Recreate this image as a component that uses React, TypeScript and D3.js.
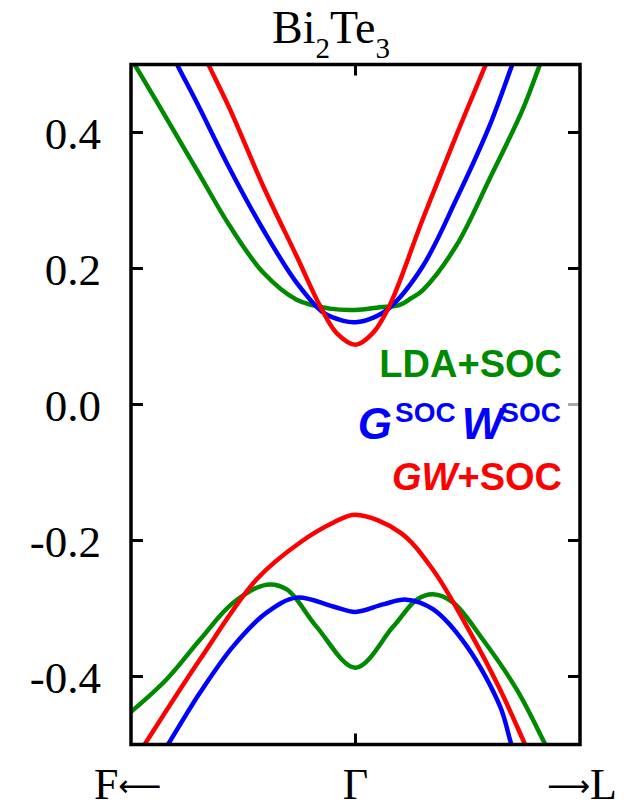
import React from "react";
import * as d3 from "d3";

// Band energies (eV) vs k (F <- Γ -> L), k in [-1, 1]
const ldaConduction: [number, number][] = [
  [-1.0, 0.509], [-0.975, 0.495], [-0.856, 0.429], [-0.707, 0.345], [-0.559, 0.262],
  [-0.411, 0.194], [-0.262, 0.154], [-0.114, 0.141], [0, 0.139], [0.109, 0.143], [0.195, 0.146],
  [0.247, 0.156], [0.299, 0.168], [0.448, 0.233], [0.596, 0.331], [0.745, 0.434], [0.816, 0.495], [0.845, 0.52],
];
const gsocConduction: [number, number][] = [
  [-0.825, 0.52], [-0.787, 0.495], [-0.707, 0.444], [-0.559, 0.346], [-0.411, 0.257],
  [-0.262, 0.179], [-0.143, 0.135], [-0.054, 0.123], [0, 0.121], [0.077, 0.1275], [0.151, 0.142],
  [0.299, 0.203], [0.448, 0.301], [0.596, 0.409], [0.693, 0.495], [0.721, 0.52],
];
const gwConduction: [number, number][] = [
  [-0.684, 0.52], [-0.648, 0.495], [-0.559, 0.434], [-0.411, 0.321], [-0.262, 0.218],
  [-0.158, 0.145], [-0.084, 0.105], [0, 0.088], [0.077, 0.105], [0.151, 0.145],
  [0.299, 0.272], [0.448, 0.395], [0.574, 0.495], [0.605, 0.52],
];
const ldaValence: [number, number][] = [
  [-1.0, -0.452], [-0.841, -0.404], [-0.693, -0.346], [-0.546, -0.292],
  [-0.396, -0.265], [-0.306, -0.272], [-0.173, -0.327], [0, -0.387], [0.167, -0.327],
  [0.273, -0.287], [0.345, -0.279], [0.434, -0.291], [0.568, -0.346], [0.718, -0.419],
  [0.835, -0.493], [0.875, -0.52],
];
const gsocValence: [number, number][] = [
  [-0.873, -0.52], [-0.826, -0.495], [-0.693, -0.424], [-0.546, -0.356], [-0.396, -0.306],
  [-0.262, -0.284], [-0.1, -0.297], [0, -0.305], [0.122, -0.294], [0.228, -0.287],
  [0.345, -0.301], [0.497, -0.356], [0.644, -0.444], [0.688, -0.493], [0.711, -0.52],
];
const gwValence: [number, number][] = [
  [-0.979, -0.52], [-0.93, -0.495], [-0.693, -0.375], [-0.44, -0.257], [-0.247, -0.203],
  [-0.1, -0.174], [0, -0.162], [0.198, -0.188], [0.345, -0.243], [0.497, -0.327],
  [0.644, -0.419], [0.746, -0.493], [0.783, -0.52],
];

const yTicks = [0.4, 0.2, 0.0, -0.2, -0.4];
const yTickLabels = ["0.4", "0.2", "0.0", "-0.2", "-0.4"];
const xTickLabels = ["F", "\u0393", "L"];

const GREEN = "#008a00";
const BLUE = "#0000ff";
const RED = "#ff0000";

const W = 630;
const H = 810;
const left = 131;
const right = 580;
const top = 64.5;
const bottom = 744.5;

const SERIF = "'Liberation Serif', 'DejaVu Serif', 'Times New Roman', serif";
const ARROW = "'DejaVu Sans', sans-serif";
const SANS = "'Liberation Sans', Arial, Helvetica, sans-serif";

export default function App() {
  const x = d3.scaleLinear().domain([-1, 1]).range([left, right]);
  const y = d3.scaleLinear().domain([-0.5, 0.5]).range([bottom, top]);
  const line = d3
    .line<[number, number]>()
    .x((d) => x(d[0]))
    .y((d) => y(d[1]))
    .curve(d3.curveCatmullRom.alpha(0.5));

  const series = [
    { d: ldaConduction, c: GREEN },
    { d: gsocConduction, c: BLUE },
    { d: gwConduction, c: RED },
    { d: ldaValence, c: GREEN },
    { d: gsocValence, c: BLUE },
    { d: gwValence, c: RED },
  ];

  const tickLen = 12;
  const xLabelY = 799;

  return (
    <svg
      width={W}
      height={H}
      style={{ position: "absolute", left: 0, top: 0, background: "#fff" }}
    >
      <defs>
        <clipPath id="plotClip">
          <rect x={left} y={top} width={right - left} height={bottom - top} />
        </clipPath>
      </defs>

      {/* Title */}
      <text x={331} y={43} textAnchor="middle" fontFamily={SERIF} fontSize={46} fill="#000">
        Bi
        <tspan fontSize={29} dy={15}>2</tspan>
        <tspan dy={-15}>Te</tspan>
        <tspan fontSize={29} dy={15}>3</tspan>
      </text>

      {/* Curves */}
      <g clipPath="url(#plotClip)">
        {series.map((s, i) => (
          <path key={i} d={line(s.d) || ""} fill="none" stroke={s.c} strokeWidth={4.5} />
        ))}
      </g>

      {/* Ticks */}
      {yTicks.map((t, i) => (
        <g key={i}>
          <line x1={left} x2={left + tickLen} y1={y(t)} y2={y(t)} stroke="#000" strokeWidth={3} />
          <line
            x1={right - tickLen}
            x2={right}
            y1={y(t)}
            y2={y(t)}
            stroke={t === 0 ? "#aaa" : "#000"}
            strokeWidth={3}
          />
          <text
            x={101}
            y={y(t) + 16.5}
            textAnchor="end"
            fontFamily={SERIF}
            fontSize={45}
            fill="#000"
          >
            {yTickLabels[i]}
          </text>
        </g>
      ))}
      <line x1={x(0)} x2={x(0)} y1={top} y2={top + 11} stroke="#000" strokeWidth={3} />
      <line x1={x(0)} x2={x(0)} y1={bottom} y2={bottom - 11} stroke="#000" strokeWidth={3} />

      {/* Frame */}
      <rect
        x={left}
        y={top}
        width={right - left}
        height={bottom - top}
        fill="none"
        stroke="#000"
        strokeWidth={3.5}
      />

      {/* X labels */}
      <text x={94} y={xLabelY} fontFamily={SERIF} fontSize={44} fill="#000">
        {xTickLabels[0]}
        <tspan fontFamily={ARROW} fontSize={30} dy={-3}>{"\u27F5"}</tspan>
      </text>
      <text x={x(0)} y={xLabelY} textAnchor="middle" fontFamily={SERIF} fontSize={44} fill="#000">
        {xTickLabels[1]}
      </text>
      <text x={617} y={xLabelY} textAnchor="end" fontFamily={SERIF} fontSize={44} fill="#000">
        <tspan fontFamily={ARROW} fontSize={30} dy={-3}>{"\u27F6"}</tspan>
        <tspan dy={3}>{xTickLabels[2]}</tspan>
      </text>

      {/* Legend */}
      <text x={562} y={377} textAnchor="end" fontFamily={SANS} fontWeight="bold" fontSize={38} fill={GREEN}>
        LDA+SOC
      </text>
      <text x={561} y={439} textAnchor="end" fontFamily={SANS} fontWeight="bold" fontSize={44} fill={BLUE}>
        <tspan fontStyle="italic">G</tspan>
        <tspan fontSize={28} dy={-17} dx={3}>SOC</tspan>
        <tspan fontStyle="italic" dy={17} dx={6}>W</tspan>
        <tspan fontSize={28} dy={-17} dx={-3}>SOC</tspan>
      </text>
      <text x={562} y={490} textAnchor="end" fontFamily={SANS} fontWeight="bold" fontSize={38} fill={RED}>
        <tspan fontStyle="italic">GW</tspan>
        <tspan>+SOC</tspan>
      </text>
    </svg>
  );
}
